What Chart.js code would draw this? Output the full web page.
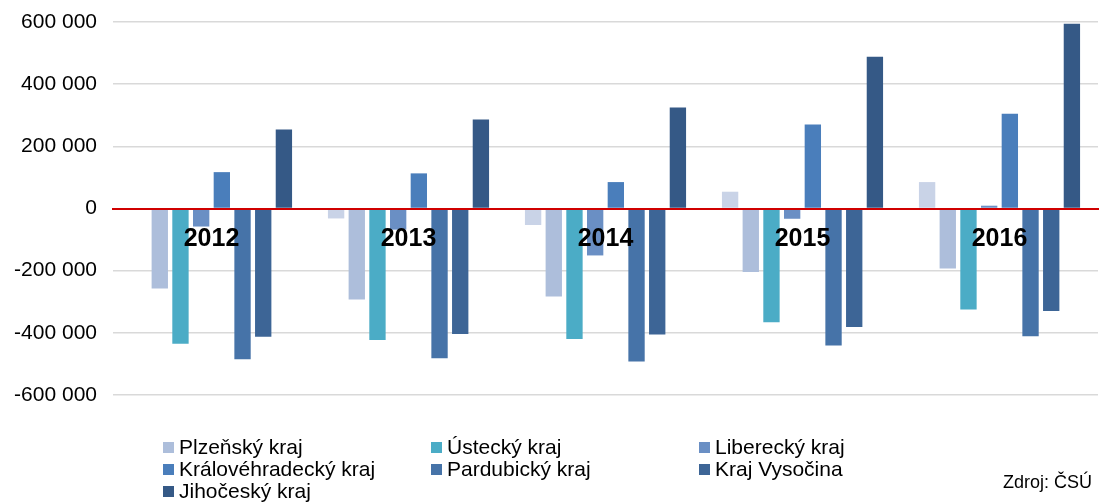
<!DOCTYPE html>
<html lang="cs">
<head>
<meta charset="utf-8">
<title>Saldo krajů</title>
<script src="https://cdn.jsdelivr.net/npm/chart.js@4/dist/chart.umd.min.js"></script>
<style>
  html, body { margin: 0; padding: 0; background: #fff; }
  #wrap { position: relative; width: 1105px; height: 503px; font-family: "Liberation Sans", Arial, sans-serif; }
  #wrap canvas { position: absolute; left: 0; top: 0; }
  .leg { position: absolute; font-size: 21px; color: #000; white-space: nowrap; line-height: 22px; }
  .leg i { position: absolute; left: -16px; top: 6px; width: 11px; height: 11px; }
  #src { position: absolute; right: 13px; top: 472px; font-size: 18px; color: #000; }
</style>
</head>
<body>
<div id="wrap">
  <canvas id="chart" width="1105" height="503"></canvas>
  <div id="legend"></div>
  <div id="src">Zdroj: ČSÚ</div>
</div>
<script>
// Categories and values
const years = ['2012', '2013', '2014', '2015', '2016'];
const bezNazvu = [null, -32000, -53000, 54000, 85000];
const plzensky = [-257000, -293000, -283000, -204000, -193000];
const ustecky = [-435000, -423000, -420000, -366000, -325000];
const liberecky = [-58000, -68000, -151000, -33000, 9000];
const kralovehradecky = [117000, 113000, 85000, 270000, 305000];
const pardubicky = [-485000, -482000, -492000, -441000, -411000];
const vysocina = [-413000, -404000, -405000, -381000, -330000];
const jihocesky = [254000, 286000, 325000, 488000, 594000];
const yTicks = [-600000, -400000, -200000, 0, 200000, 400000, 600000];

const colors = {
  pale: '#c9d3e7',
  plzen: '#adbedb',
  usti: '#4bacc6',
  liberec: '#6a8fc4',
  hradec: '#4a7ebb',
  pardubice: '#4673a8',
  vysocina: '#3d6596',
  jih: '#355986',
};

function fmt(v) {
  return String(v).replace(/\B(?=(\d{3})+(?!\d))/g, ' ');
}

const datasets = [
  { label: '', data: bezNazvu, backgroundColor: colors.pale, hideInLegend: true },
  { label: 'Plzeňský kraj', data: plzensky, backgroundColor: colors.plzen },
  { label: 'Ústecký kraj', data: ustecky, backgroundColor: colors.usti },
  { label: 'Liberecký kraj', data: liberecky, backgroundColor: colors.liberec },
  { label: 'Královéhradecký kraj', data: kralovehradecky, backgroundColor: colors.hradec },
  { label: 'Pardubický kraj', data: pardubicky, backgroundColor: colors.pardubice },
  { label: 'Kraj Vysočina', data: vysocina, backgroundColor: colors.vysocina },
  { label: 'Jihočeský kraj', data: jihocesky, backgroundColor: colors.jih },
];

Chart.defaults.font.family = '"Liberation Sans", Arial, sans-serif';
Chart.defaults.color = '#000';

const chart = new Chart(document.getElementById('chart'), {
  type: 'bar',
  data: { labels: years, datasets: datasets },
  options: {
    responsive: false,
    animation: false,
    categoryPercentage: 0.84,
    barPercentage: 0.79,
    layout: { padding: { top: 22, right: 7, bottom: 108, left: 0 } },
    plugins: {
      legend: { display: false },
      tooltip: { enabled: false },
    },
    scales: {
      x: {
        position: { y: 0 },
        grid: { display: false, drawTicks: false },
        border: { display: true, color: '#d00000', width: 2, z: 1 },
        ticks: { font: { size: 25, weight: 'bold' }, color: '#000', padding: 16, maxRotation: 0, z: 2 },
      },
      y: {
        min: -600000,
        max: 600000,
        afterBuildTicks: (axis) => { axis.ticks = yTicks.map((v) => ({ value: v })); },
        afterFit: (axis) => {
          axis.width = 113;
          axis.paddingTop = 0;
          axis.paddingBottom = 0;
        },
        grid: { color: '#d9d9d9', lineWidth: 1.5, drawTicks: false },
        border: { display: false },
        ticks: { font: { size: 21 }, color: '#000', padding: 16, callback: (v) => fmt(v) },
      },
    },
  },
});

// Legend in three columns, built from the datasets
const legendEl = document.getElementById('legend');
const colX = [179, 447, 715];
const rowY = [436, 458, 480];
let n = 0;
chart.data.datasets.forEach((ds) => {
  if (ds.hideInLegend) return;
  const item = document.createElement('div');
  item.className = 'leg';
  item.style.left = colX[n % 3] + 'px';
  item.style.top = rowY[Math.floor(n / 3)] + 'px';
  const box = document.createElement('i');
  box.style.background = ds.backgroundColor;
  item.appendChild(box);
  item.appendChild(document.createTextNode(ds.label));
  legendEl.appendChild(item);
  n++;
});
</script>
</body>
</html>
